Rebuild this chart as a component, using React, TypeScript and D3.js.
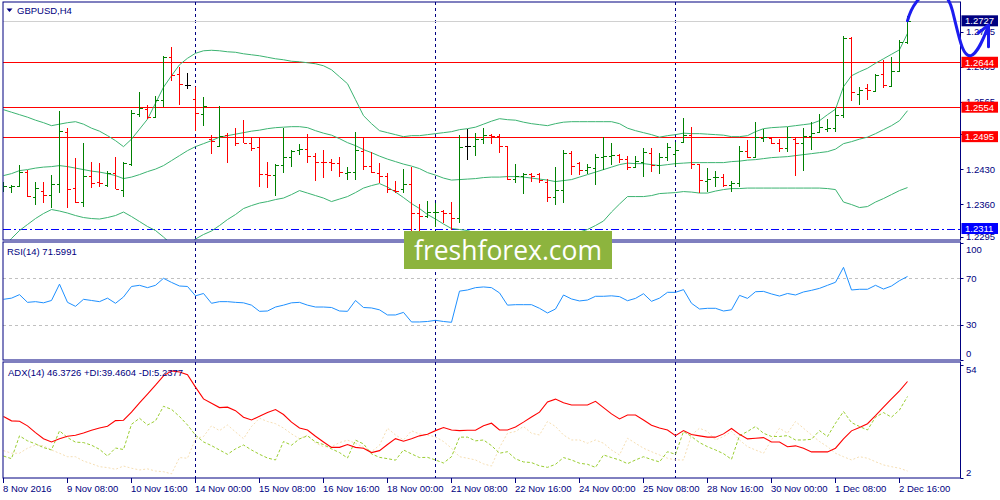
import * as d3 from "d3";

// GBPUSD H4, one entry per bar (8 Nov 2016 00:00 .. 2 Dec 2016 20:00)
const opens = [
  1.2394, 1.2395, 1.2397, 1.2425, 1.2375, 1.2387, 1.2379, 1.2401, 1.2504, 1.2392,
  1.2365, 1.2417, 1.2405, 1.2399, 1.2422, 1.2389, 1.2440, 1.2541, 1.2550, 1.2534,
  1.2569, 1.2654, 1.2620, 1.2599, 1.2571, 1.2541, 1.2490, 1.2477, 1.2499, 1.2495,
  1.2494, 1.2483, 1.2475, 1.2421, 1.2419, 1.2439, 1.2455, 1.2469, 1.2470, 1.2457,
  1.2445, 1.2444, 1.2442, 1.2423, 1.2424, 1.2467, 1.2437, 1.2422, 1.2417, 1.2389,
  1.2390, 1.2401, 1.2343, 1.2337, 1.2344, 1.2347, 1.2342, 1.2332, 1.2477, 1.2477,
  1.2490, 1.2499, 1.2497, 1.2477, 1.2410, 1.2417, 1.2421, 1.2420, 1.2405, 1.2374,
  1.2389, 1.2462, 1.2442, 1.2429, 1.2432, 1.2455, 1.2457, 1.2459, 1.2450, 1.2435,
  1.2445, 1.2462, 1.2439, 1.2455, 1.2461, 1.2485, 1.2499, 1.2440, 1.2407, 1.2414,
  1.2415, 1.2399, 1.2403, 1.2467, 1.2455, 1.2492, 1.2493, 1.2483, 1.2473, 1.2490,
  1.2482, 1.2497, 1.2505, 1.2510, 1.2512, 1.2539, 1.2692, 1.2580, 1.2592, 1.2587,
  1.2621, 1.2597, 1.2627, 1.2685,
];
const highs = [
  1.2405, 1.2399, 1.2439, 1.2429, 1.2405, 1.2405, 1.2419, 1.2547, 1.2512, 1.2453,
  1.2482, 1.2444, 1.2442, 1.2427, 1.2455, 1.2444, 1.2549, 1.2585, 1.2559, 1.2577,
  1.2657, 1.2675, 1.2635, 1.2623, 1.2595, 1.2575, 1.2499, 1.2557, 1.2502, 1.2512,
  1.2529, 1.2492, 1.2495, 1.2444, 1.2440, 1.2512, 1.2469, 1.2481, 1.2501, 1.2463,
  1.2468, 1.2450, 1.2455, 1.2435, 1.2505, 1.2495, 1.2464, 1.2442, 1.2423, 1.2407,
  1.2430, 1.2435, 1.2361, 1.2367, 1.2363, 1.2349, 1.2365, 1.2499, 1.2510, 1.2503,
  1.2512, 1.2501, 1.2500, 1.2477, 1.2441, 1.2423, 1.2423, 1.2423, 1.2410, 1.2435,
  1.2469, 1.2467, 1.2445, 1.2441, 1.2461, 1.2494, 1.2482, 1.2461, 1.2457, 1.2457,
  1.2472, 1.2472, 1.2463, 1.2482, 1.2485, 1.2532, 1.2515, 1.2441, 1.2432, 1.2427,
  1.2421, 1.2407, 1.2477, 1.2489, 1.2525, 1.2510, 1.2494, 1.2490, 1.2515, 1.2494,
  1.2512, 1.2524, 1.2540, 1.2530, 1.2552, 1.2697, 1.2694, 1.2594, 1.2600, 1.2621,
  1.2649, 1.2655, 1.2689, 1.2737,
];
const lows = [
  1.2385, 1.2383, 1.2395, 1.2375, 1.2359, 1.2363, 1.2352, 1.2383, 1.2352, 1.2363,
  1.2355, 1.2392, 1.2395, 1.2394, 1.2390, 1.2375, 1.2437, 1.2535, 1.2530, 1.2532,
  1.2554, 1.2607, 1.2559, 1.2590, 1.2507, 1.2517, 1.2461, 1.2477, 1.2442, 1.2477,
  1.2482, 1.2467, 1.2395, 1.2392, 1.2377, 1.2423, 1.2434, 1.2459, 1.2442, 1.2407,
  1.2412, 1.2427, 1.2415, 1.2409, 1.2409, 1.2429, 1.2422, 1.2403, 1.2382, 1.2383,
  1.2382, 1.2302, 1.2302, 1.2332, 1.2315, 1.2323, 1.2309, 1.2323, 1.2449, 1.2457,
  1.2481, 1.2481, 1.2462, 1.2409, 1.2402, 1.2381, 1.2405, 1.2402, 1.2365, 1.2359,
  1.2362, 1.2419, 1.2419, 1.2421, 1.2399, 1.2429, 1.2439, 1.2443, 1.2429, 1.2434,
  1.2414, 1.2425, 1.2421, 1.2447, 1.2437, 1.2483, 1.2430, 1.2382, 1.2385, 1.2395,
  1.2395, 1.2385, 1.2395, 1.2452, 1.2455, 1.2485, 1.2481, 1.2465, 1.2465, 1.2417,
  1.2427, 1.2469, 1.2505, 1.2505, 1.2505, 1.2532, 1.2567, 1.2559, 1.2569, 1.2585,
  1.2592, 1.2595, 1.2625, 1.2680,
];
const closes = [
  1.2397, 1.2397, 1.2425, 1.2377, 1.2392, 1.2379, 1.2401, 1.2507, 1.2390, 1.2365,
  1.2417, 1.2403, 1.2402, 1.2423, 1.2390, 1.2442, 1.2542, 1.2552, 1.2534, 1.2569,
  1.2655, 1.2619, 1.2600, 1.2599, 1.2542, 1.2557, 1.2487, 1.2497, 1.2495, 1.2482,
  1.2483, 1.2473, 1.2421, 1.2419, 1.2439, 1.2455, 1.2467, 1.2470, 1.2457, 1.2445,
  1.2444, 1.2442, 1.2425, 1.2425, 1.2469, 1.2437, 1.2425, 1.2417, 1.2390, 1.2387,
  1.2401, 1.2343, 1.2337, 1.2345, 1.2345, 1.2342, 1.2332, 1.2475, 1.2477, 1.2490,
  1.2499, 1.2497, 1.2477, 1.2410, 1.2417, 1.2421, 1.2417, 1.2409, 1.2375, 1.2389,
  1.2462, 1.2437, 1.2429, 1.2435, 1.2455, 1.2457, 1.2459, 1.2450, 1.2435, 1.2447,
  1.2465, 1.2439, 1.2455, 1.2475, 1.2469, 1.2499, 1.2440, 1.2409, 1.2410, 1.2415,
  1.2399, 1.2403, 1.2467, 1.2455, 1.2495, 1.2495, 1.2483, 1.2473, 1.2494, 1.2483,
  1.2497, 1.2503, 1.2515, 1.2512, 1.2539, 1.2692, 1.2585, 1.2589, 1.2589, 1.2619,
  1.2599, 1.2627, 1.2685, 1.2727,
];

// Bollinger bands
const bbUpper = [
  1.2549, 1.2544, 1.2539, 1.2534, 1.2528, 1.2523, 1.2517, 1.2520, 1.2523, 1.2525,
  1.2520, 1.2512, 1.2506, 1.2497, 1.2487, 1.2475, 1.2490, 1.2510, 1.2530, 1.2562,
  1.2594, 1.2617, 1.2639, 1.2652, 1.2662, 1.2667, 1.2668, 1.2667, 1.2665, 1.2664,
  1.2661, 1.2659, 1.2657, 1.2654, 1.2651, 1.2649, 1.2646, 1.2645, 1.2643, 1.2641,
  1.2637, 1.2629, 1.2615, 1.2601, 1.2569, 1.2537, 1.2521, 1.2507, 1.2503, 1.2499,
  1.2495, 1.2497, 1.2497, 1.2499, 1.2501, 1.2503, 1.2505, 1.2509, 1.2511, 1.2514,
  1.2520, 1.2526, 1.2531, 1.2529, 1.2528, 1.2524, 1.2521, 1.2519, 1.2517, 1.2521,
  1.2524, 1.2525, 1.2525, 1.2525, 1.2525, 1.2525, 1.2525, 1.2521, 1.2512, 1.2507,
  1.2503, 1.2499, 1.2494, 1.2497, 1.2499, 1.2502, 1.2501, 1.2501, 1.2500, 1.2499,
  1.2498, 1.2495, 1.2495, 1.2497, 1.2505, 1.2511, 1.2513, 1.2514, 1.2515, 1.2517,
  1.2519, 1.2521, 1.2527, 1.2539, 1.2550, 1.2595, 1.2617, 1.2625, 1.2632, 1.2642,
  1.2651, 1.2660, 1.2669, 1.2702,
];
const bbMiddle = [
  1.2417, 1.2421, 1.2427, 1.2429, 1.2432, 1.2434, 1.2435, 1.2437, 1.2435, 1.2432,
  1.2429, 1.2426, 1.2424, 1.2421, 1.2417, 1.2411, 1.2414, 1.2419, 1.2425, 1.2430,
  1.2437, 1.2447, 1.2457, 1.2467, 1.2475, 1.2481, 1.2487, 1.2494, 1.2497, 1.2500,
  1.2503, 1.2506, 1.2508, 1.2511, 1.2513, 1.2514, 1.2515, 1.2515, 1.2513, 1.2507,
  1.2502, 1.2498, 1.2491, 1.2483, 1.2477, 1.2469, 1.2463, 1.2456, 1.2450, 1.2445,
  1.2440, 1.2436, 1.2431, 1.2423, 1.2418, 1.2412, 1.2408, 1.2409, 1.2410, 1.2411,
  1.2413, 1.2414, 1.2414, 1.2415, 1.2415, 1.2414, 1.2412, 1.2410, 1.2408, 1.2405,
  1.2407, 1.2409, 1.2414, 1.2419, 1.2424, 1.2429, 1.2434, 1.2439, 1.2442, 1.2441,
  1.2441, 1.2439, 1.2437, 1.2439, 1.2441, 1.2442, 1.2443, 1.2443, 1.2443, 1.2443,
  1.2443, 1.2445, 1.2446, 1.2448, 1.2449, 1.2451, 1.2453, 1.2454, 1.2455, 1.2457,
  1.2459, 1.2461, 1.2463, 1.2465, 1.2470, 1.2481, 1.2485, 1.2490, 1.2494, 1.2501,
  1.2509, 1.2517, 1.2527, 1.2547,
];
const bbLower = [
  1.2272, 1.2291, 1.2307, 1.2319, 1.2331, 1.2341, 1.2349, 1.2346, 1.2342, 1.2337,
  1.2333, 1.2331, 1.2330, 1.2333, 1.2337, 1.2344, 1.2335, 1.2325, 1.2315, 1.2307,
  1.2294, 1.2279, 1.2265, 1.2275, 1.2290, 1.2299, 1.2306, 1.2317, 1.2329, 1.2339,
  1.2351, 1.2357, 1.2362, 1.2365, 1.2369, 1.2372, 1.2379, 1.2387, 1.2382, 1.2377,
  1.2372, 1.2365, 1.2370, 1.2375, 1.2383, 1.2392, 1.2397, 1.2401, 1.2394, 1.2384,
  1.2373, 1.2361, 1.2351, 1.2339, 1.2330, 1.2320, 1.2311, 1.2309, 1.2307, 1.2302,
  1.2292, 1.2282, 1.2275, 1.2272, 1.2270, 1.2270, 1.2272, 1.2275, 1.2279, 1.2285,
  1.2292, 1.2299, 1.2304, 1.2309, 1.2317, 1.2326, 1.2344, 1.2360, 1.2375, 1.2375,
  1.2375, 1.2377, 1.2381, 1.2382, 1.2383, 1.2385, 1.2384, 1.2382, 1.2382, 1.2386,
  1.2389, 1.2391, 1.2391, 1.2392, 1.2392, 1.2392, 1.2392, 1.2392, 1.2392, 1.2392,
  1.2392, 1.2392, 1.2392, 1.2391, 1.2389, 1.2364, 1.2359, 1.2353, 1.2355, 1.2364,
  1.2371, 1.2379, 1.2387, 1.2393,
];

const rsi = [
  52, 53, 56, 49.4, 50, 49, 51, 65, 49.4, 46,
  52, 51, 50, 53, 48.6, 54, 63, 64, 62, 64,
  70, 66.5, 63.4, 63, 55, 57, 48.6, 50, 50, 49.4,
  49, 47, 41.7, 42, 45.4, 47, 49, 49.4, 47, 45.4,
  45.4, 45, 42, 41.7, 51, 45, 44.6, 43, 38.6, 38.6,
  40.8, 32.6, 32.6, 33, 34, 33, 32.3, 59, 60, 62,
  62.6, 62, 57.5, 47, 47.4, 47.4, 47.4, 44.3, 40.3, 43.7,
  55.7, 52.3, 50.6, 51.4, 54.6, 54.6, 55, 54.3, 50.8, 52.8,
  56.8, 50.3, 53, 58, 58, 60.3, 48.6, 43.7, 44.3, 44.3,
  42, 43, 55.4, 52.8, 58.5, 58.8, 56.6, 54.8, 57, 55.7,
  58.3, 59.7, 61.4, 64, 66.6, 79.4, 60, 60.6, 60.6, 64,
  60.8, 63.4, 68, 71.6,
];

const adx = [
  30.3, 28.3, 28.1, 26.0, 22.9, 20.1, 18.6, 20.1, 21.2, 21.7,
  22.7, 24.0, 25.0, 25.8, 28.4, 28.6, 32.3, 36.6, 40.6, 44.7,
  49.0, 51.3, 50.8, 49.5, 43.8, 38.4, 36.4, 34.4, 34.6, 33.0,
  30.0, 28.7, 30.4, 32.1, 33.5, 31.2, 27.7, 25.0, 24.1, 21.2,
  18.6, 16.1, 16.1, 17.4, 16.1, 15.7, 13.7, 14.6, 17.4, 20.1,
  18.9, 20.1, 21.4, 22.1, 23.8, 25.2, 24.1, 23.8, 24.0, 24.0,
  26.0, 27.2, 24.1, 24.1, 25.5, 27.7, 30.1, 32.3, 37.0, 38.3,
  36.6, 35.6, 35.6, 35.6, 37.3, 34.4, 31.5, 29.2, 31.0, 31.0,
  28.7, 26.3, 25.0, 24.1, 21.5, 23.8, 22.0, 21.4, 20.8, 20.8,
  22.3, 24.8, 22.1, 20.0, 20.3, 20.6, 18.6, 18.6, 16.4, 16.8,
  15.7, 14.0, 14.0, 14.0, 15.7, 20.0, 23.7, 25.2, 27.0, 30.7,
  34.6, 38.4, 42.1, 46.4,
];
const plusDI = [
  12.1, 10.9, 21.4, 19.1, 17.7, 16.0, 14.9, 23.7, 20.6, 18.5,
  18.3, 17.1, 15.2, 12.1, 15.8, 15.1, 26.7, 29.5, 26.4, 28.3,
  35.0, 33.6, 30.3, 26.4, 21.7, 18.6, 16.9, 14.9, 12.9, 15.4,
  17.2, 14.9, 12.9, 11.2, 10.3, 18.8, 17.1, 20.0, 21.4, 18.6,
  17.4, 15.4, 13.7, 11.2, 19.4, 17.7, 13.1, 11.5, 10.9, 10.2,
  14.9, 13.1, 11.4, 11.5, 10.3, 8.9, 11.8, 20.8, 20.8, 19.1,
  19.5, 16.9, 13.4, 14.1, 10.8, 9.4, 9.1, 7.6, 6.9, 8.3,
  11.4, 10.3, 8.8, 8.3, 6.9, 12.6, 11.4, 10.3, 8.6, 10.3,
  11.8, 10.5, 9.4, 14.1, 12.9, 23.4, 21.1, 18.3, 16.4, 14.9,
  13.2, 10.6, 21.5, 23.4, 25.7, 22.6, 21.1, 21.1, 21.5, 19.5,
  19.5, 19.8, 23.8, 21.1, 27.2, 32.6, 27.5, 25.7, 24.1, 30.0,
  32.1, 30.0, 33.3, 39.5,
];
const minusDI = [
  14.6, 13.4, 13.4, 15.7, 17.2, 16.8, 14.9, 13.4, 11.8, 11.8,
  9.8, 8.6, 7.2, 6.8, 6.0, 7.5, 6.5, 5.7, 6.2, 5.2,
  4.9, 3.9, 11.4, 11.1, 20.1, 21.1, 26.0, 23.8, 26.4, 23.2,
  20.1, 25.7, 29.5, 28.0, 27.0, 25.0, 22.3, 20.1, 21.8, 18.1,
  16.4, 16.4, 18.3, 19.4, 18.0, 16.1, 14.1, 17.1, 24.9, 21.8,
  19.5, 23.7, 22.3, 21.8, 20.9, 18.8, 15.7, 11.8, 11.1, 10.3,
  8.5, 7.5, 16.0, 22.6, 23.4, 25.7, 22.6, 21.8, 28.0, 25.7,
  21.8, 19.5, 19.5, 18.0, 19.5, 18.0, 14.9, 12.6, 20.3, 18.0,
  15.7, 14.1, 12.6, 11.1, 10.3, 10.3, 21.8, 24.9, 23.4, 19.5,
  21.1, 23.4, 19.5, 16.4, 14.9, 13.4, 19.5, 24.9, 22.6, 28.0,
  24.9, 21.8, 18.8, 16.4, 13.4, 11.8, 10.3, 11.8, 11.1, 9.5,
  8.0, 7.2, 6.5, 5.2,
];

const timeLabels = [
  "8 Nov 2016", "9 Nov 08:00", "10 Nov 16:00", "14 Nov 00:00", "15 Nov 08:00",
  "16 Nov 16:00", "18 Nov 00:00", "21 Nov 08:00", "22 Nov 16:00", "24 Nov 00:00",
  "25 Nov 08:00", "28 Nov 16:00", "30 Nov 00:00", "1 Dec 08:00", "2 Dec 16:00",
];
const timeLabelBars = [0, 8, 16, 24, 32, 40, 48, 56, 64, 72, 80, 88, 96, 104, 112];
const weekStartBars = [24, 54, 84];

const priceTicks = [1.2295, 1.236, 1.243, 1.25, 1.2565, 1.2635, 1.2705];
const resistanceLevels = [1.2644, 1.2554, 1.2495];
const supportLevel = 1.2311;
const bidPrice = 1.2727;
const rsiLevels = [70, 30];
const rsiTicks = [100, 70, 30, 0];
const adxTicks = [54, 2];

const FONT = "Tahoma, 'Liberation Sans', Arial, sans-serif";
const NAVY = "#000080";
const LEFT = 3;
const RIGHT = 960.5;
const MAIN = { top: 2, bottom: 240 };
const RSI_P = { top: 242, bottom: 360 };
const ADX_P = { top: 362, bottom: 478 };

export default function App() {
  const n = closes.length;
  const x = d3.scaleLinear().domain([0, n - 1]).range([3.5, 3.5 + 8 * (n - 1)]);
  const y = d3.scaleLinear().domain([1.2288, 1.27647]).range([MAIN.bottom, MAIN.top]);
  const ry = d3.scaleLinear().domain([0, 100]).range([RSI_P.bottom, 243.3]);
  const ay = d3.scaleLinear().domain([2, 54]).range([ADX_P.bottom, 365]);

  const priceLine = d3.line<number>().x((_, i) => x(i)).y(d => y(d));
  const rsiLine = d3.line<number>().x((_, i) => x(i)).y(d => ry(d));
  const adxLine = d3.line<number>().x((_, i) => x(i)).y(d => ay(d));

  const crisp = (v: number) => Math.round(v) + 0.5;

  const panelRect = (p: { top: number; bottom: number }) => (
    <rect x={LEFT} y={p.top} width={RIGHT - LEFT} height={p.bottom - p.top} fill="none" stroke={NAVY} strokeWidth={1} />
  );

  const lastX = x(n - 1);
  const lastY = y(closes[n - 1]);

  const boxLabel = (v: number, bg: string) => (
    <g key={`box${v}`}>
      <rect x={961.5} y={y(v) - 5.5} width={36.5} height={11} fill={bg} />
      <text x={965} y={y(v) + 3.6} fill="#fff" fontSize={9.5} fontFamily={FONT}>{v.toFixed(4)}</text>
    </g>
  );

  return (
    <svg width={1000} height={500} style={{ position: "absolute", left: 0, top: 0, background: "#fff" }}>
      <defs>
        <clipPath id="clipMain"><rect x={LEFT} y={MAIN.top} width={RIGHT - LEFT} height={MAIN.bottom - MAIN.top} /></clipPath>
        <clipPath id="clipRsi"><rect x={LEFT} y={RSI_P.top} width={RIGHT - LEFT} height={RSI_P.bottom - RSI_P.top} /></clipPath>
        <clipPath id="clipAdx"><rect x={LEFT} y={ADX_P.top} width={RIGHT - LEFT} height={ADX_P.bottom - ADX_P.top} /></clipPath>
      </defs>
      <rect width={1000} height={500} fill="#fff" />

      {/* week separators */}
      {weekStartBars.map(b => (
        <line key={`sep${b}`} x1={x(b)} x2={x(b)} y1={MAIN.top} y2={ADX_P.bottom} stroke={NAVY} strokeDasharray="3,3" shapeRendering="crispEdges" />
      ))}

      {/* main panel */}
      <g clipPath="url(#clipMain)">
        <line x1={LEFT} x2={RIGHT} y1={crisp(y(bidPrice))} y2={crisp(y(bidPrice))} stroke="#d0d0d0" />
        {resistanceLevels.map(v => (
          <line key={`res${v}`} x1={LEFT} x2={RIGHT} y1={crisp(y(v))} y2={crisp(y(v))} stroke="#ff0000" />
        ))}
        <line x1={LEFT} x2={RIGHT} y1={crisp(y(supportLevel))} y2={crisp(y(supportLevel))} stroke="#0000ff" strokeDasharray="8,3,2,3" />
        {[bbUpper, bbMiddle, bbLower].map((band, k) => (
          <path key={`bb${k}`} d={priceLine(band) ?? ""} fill="none" stroke="#3cb371" strokeWidth={1} />
        ))}
        <g shapeRendering="crispEdges">
          {closes.map((c, i) => {
            const o = opens[i];
            const col = c > o ? "#008000" : c < o ? "#ff0000" : "#000000";
            const xi = x(i);
            return (
              <g key={`bar${i}`} stroke={col}>
                <line x1={xi} x2={xi} y1={y(highs[i])} y2={y(lows[i])} />
                <line x1={xi - 3} x2={xi} y1={crisp(y(o))} y2={crisp(y(o))} />
                <line x1={xi} x2={xi + 3.5} y1={crisp(y(c))} y2={crisp(y(c))} />
              </g>
            );
          })}
        </g>
      </g>
      {panelRect(MAIN)}
      <path d="M6.5,8.5 L12.5,8.5 L9.5,12 Z" fill={NAVY} />
      <text x={17} y={14} fill={NAVY} fontSize={9.5} fontFamily={FONT}>GBPUSD,H4</text>

      {/* price axis */}
      {priceTicks.map(v => (
        <g key={`pt${v}`}>
          <line x1={RIGHT} x2={RIGHT + 3} y1={crisp(y(v))} y2={crisp(y(v))} stroke={NAVY} />
          <text x={966} y={y(v) + 3.5} fill={NAVY} fontSize={9.5} fontFamily={FONT}>{v.toFixed(4)}</text>
        </g>
      ))}
      {boxLabel(bidPrice, NAVY)}
      {resistanceLevels.map(v => boxLabel(v, "#ff0000"))}
      {boxLabel(supportLevel, "#0000ff")}

      {/* RSI panel */}
      <g clipPath="url(#clipRsi)">
        {rsiLevels.map(v => (
          <line key={`rl${v}`} x1={LEFT} x2={RIGHT} y1={crisp(ry(v))} y2={crisp(ry(v))} stroke="#c0c0c0" strokeDasharray="3,3" />
        ))}
        <path d={rsiLine(rsi) ?? ""} fill="none" stroke="#1e90ff" strokeWidth={1} />
      </g>
      {panelRect(RSI_P)}
      <text x={7} y={255} fill={NAVY} fontSize={9.5} fontFamily={FONT}>RSI(14) 71.5991</text>
      {rsiTicks.map(v => {
        const ty = Math.min(Math.max(ry(v), 249), 353);
        return (
          <g key={`rt${v}`}>
            <line x1={RIGHT} x2={RIGHT + 3} y1={crisp(ry(v))} y2={crisp(ry(v))} stroke={NAVY} />
            <text x={966} y={ty + 3.5} fill={NAVY} fontSize={9.5} fontFamily={FONT}>{v}</text>
          </g>
        );
      })}

      {/* ADX panel */}
      <g clipPath="url(#clipAdx)">
        <path d={adxLine(minusDI) ?? ""} fill="none" stroke="#f5deb3" strokeWidth={1} strokeDasharray="2,2" />
        <path d={adxLine(plusDI) ?? ""} fill="none" stroke="#9acd32" strokeWidth={1} strokeDasharray="3,2" />
        <path d={adxLine(adx) ?? ""} fill="none" stroke="#ff0000" strokeWidth={1.1} />
      </g>
      {panelRect(ADX_P)}
      <text x={8} y={375.5} fill={NAVY} fontSize={9.5} fontFamily={FONT}>ADX(14) 46.3726 +DI:39.4604 -DI:5.2377</text>
      {adxTicks.map(v => {
        const ty = Math.min(Math.max(ay(v), 369), 472.5);
        return (
          <g key={`at${v}`}>
            <line x1={RIGHT} x2={RIGHT + 3} y1={crisp(ay(v))} y2={crisp(ay(v))} stroke={NAVY} />
            <text x={966} y={ty + 3.5} fill={NAVY} fontSize={9.5} fontFamily={FONT}>{v}</text>
          </g>
        );
      })}

      {/* time axis */}
      {timeLabelBars.map((b, k) => (
        <g key={`tl${b}`}>
          <line x1={x(b)} x2={x(b)} y1={ADX_P.bottom} y2={ADX_P.bottom + 5} stroke={NAVY} shapeRendering="crispEdges" />
          <text x={x(b) - 0.5} y={492} fill={NAVY} fontSize={9.5} fontFamily={FONT}>{timeLabels[k]}</text>
        </g>
      ))}

      {/* hand-drawn forecast arrow */}
      <g fill="none" stroke="#1c1cf0" strokeWidth={3} strokeLinecap="round" strokeLinejoin="round">
        <path d={`M${lastX},${lastY} C${lastX + 8},${lastY - 30} ${lastX + 36},${lastY - 45} ${lastX + 45},${lastY - 10} C${lastX + 52},${lastY + 18} ${lastX + 55},${lastY + 36} ${lastX + 63},${lastY + 35} C${lastX + 70},${lastY + 33} ${lastX + 76},${lastY + 18} ${lastX + 81},${lastY + 5}`} />
        <path d={`M${lastX + 71},${lastY + 12} L${lastX + 81},${lastY + 4} L${lastX + 81},${lastY + 26}`} />
      </g>

      {/* watermark */}
      <rect x={404} y={231} width={208} height={38} fill="#8db43e" />
      <text x={414} y={259.5} fill="#fff" fontSize={27} fontFamily="'Open Sans', sans-serif" textLength={188} lengthAdjust="spacingAndGlyphs">freshforex.com</text>
    </svg>
  );
}
